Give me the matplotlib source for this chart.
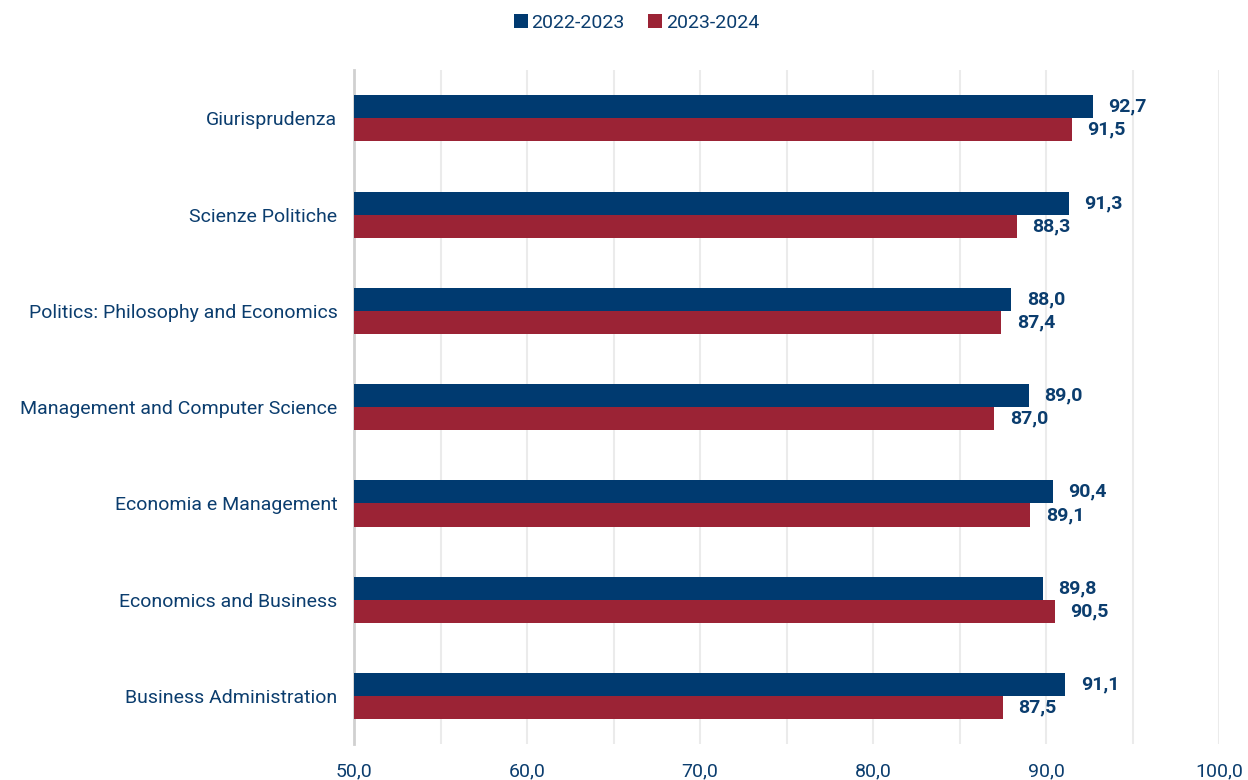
import numpy as np
import matplotlib.pyplot as plt
from matplotlib.ticker import MultipleLocator, FuncFormatter

categories = ["Giurisprudenza", "Scienze Politiche", "Politics: Philosophy and Economics",
              "Management and Computer Science", "Economia e Management",
              "Economics and Business", "Business Administration"]
v2223 = [92.7, 91.3, 88.0, 89.0, 90.4, 89.8, 91.1]
v2324 = [91.5, 88.3, 87.4, 87.0, 89.1, 90.5, 87.5]
series = ["2022-2023", "2023-2024"]

blue = "#003A70"
red = "#9B2335"
txt = "#0B3D6E"

plt.rcParams['font.family'] = ['Roboto', 'DejaVu Sans']

fig = plt.figure(figsize=(12.48, 7.8), dpi=100)
ax = fig.add_axes([0.2837, 0.046, 0.6931, 0.864])

y = np.arange(len(categories))
h = 0.24
b1 = ax.barh(y - h / 2, [v - 50 for v in v2223], h, left=50, color=blue, label=series[0], zorder=3)
b2 = ax.barh(y + h / 2, [v - 50 for v in v2324], h, left=50, color=red, label=series[1], zorder=3)

for yy, v in zip(y - h / 2, v2223):
    ax.text(v + 0.9, yy, f"{v:.1f}".replace(".", ","), va='center', ha='left',
            fontsize=14, fontweight='bold', color=txt)
for yy, v in zip(y + h / 2, v2324):
    ax.text(v + 0.9, yy, f"{v:.1f}".replace(".", ","), va='center', ha='left',
            fontsize=14, fontweight='bold', color=txt)

ax.set_xlim(50, 100)
ax.set_ylim(len(categories) - 0.5, -0.5)
ax.set_yticks(y)
ax.set_yticklabels(categories, fontsize=14, color=txt)
ax.xaxis.set_major_locator(MultipleLocator(10))
ax.xaxis.set_minor_locator(MultipleLocator(5))
ax.xaxis.set_major_formatter(FuncFormatter(lambda x, p: f"{x:.1f}".replace(".", ",")))
ax.tick_params(axis='x', which='both', length=0, labelsize=14, labelcolor=txt, pad=13)
ax.tick_params(axis='y', length=0, pad=12)
ax.grid(axis='x', which='both', color='#EBEBEB', linewidth=1.5, zorder=0)
for s in ['top', 'right', 'bottom']:
    ax.spines[s].set_visible(False)
ax.spines['left'].set_color('#D0D0D0')
ax.spines['left'].set_linewidth(2)

fig.legend(handles=[b1, b2], labels=series, loc='upper center', bbox_to_anchor=(0.51, 1.005),
           ncol=2, frameon=False, fontsize=14, labelcolor=txt, handlelength=0.7,
           handleheight=0.7, handletextpad=0.2, columnspacing=1.2)

plt.savefig("out.png", dpi=100)
